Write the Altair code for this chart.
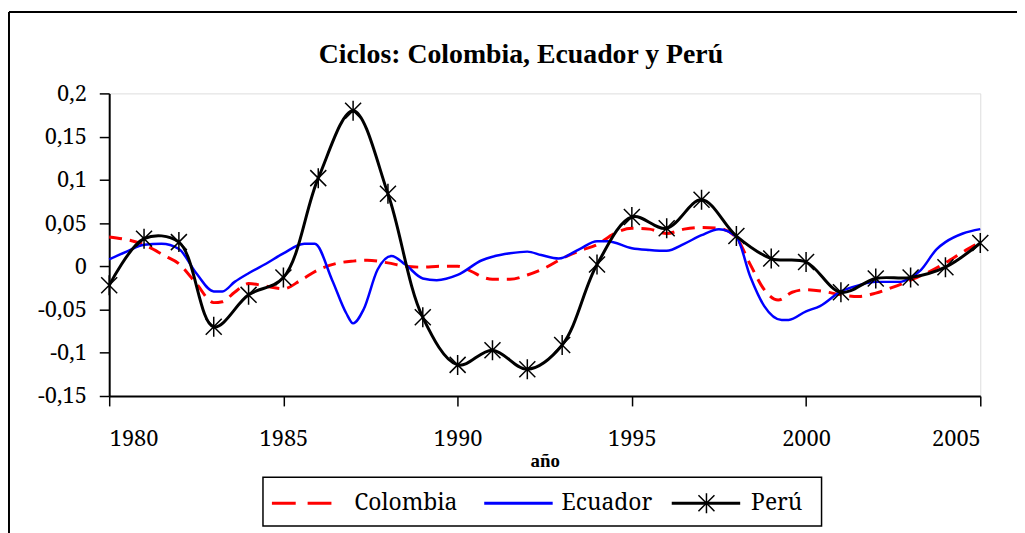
import altair as alt
import pandas as pd

# ---- data ----
peru_years = list(range(1980, 2006))
peru_vals = [-0.022, 0.032, 0.028, -0.070, -0.033, -0.013, 0.102, 0.180, 0.084, -0.059,
             -0.114, -0.097, -0.119, -0.091, 0.002, 0.057, 0.044, 0.077, 0.035, 0.009,
             0.005, -0.030, -0.014, -0.013, -0.001, 0.027]

col_years = [1980, 1981, 1981.6, 1982, 1982.5, 1983, 1983.25, 1983.6, 1984, 1984.5, 1985,
             1985.5, 1986, 1986.6, 1987, 1987.4, 1988, 1988.5, 1989, 1989.5, 1990, 1990.4,
             1990.75, 1991, 1991.5, 1992, 1992.5, 1993, 1993.5, 1994, 1994.5, 1995, 1995.5,
             1996, 1996.5, 1997, 1997.5, 1998, 1998.4, 1998.8, 1999.2, 1999.6, 2000, 2000.5,
             2001, 2001.5, 2002, 2002.5, 2003, 2003.5, 2004, 2004.6, 2005]
col_vals = [0.034, 0.025, 0.012, 0.003, -0.020, -0.042, -0.041, -0.030, -0.020, -0.023, -0.026,
            -0.016, -0.004, 0.004, 0.006, 0.007, 0.004, 0.000, -0.001, 0.000, 0.000, -0.006,
            -0.013, -0.015, -0.015, -0.010, -0.002, 0.009, 0.018, 0.025, 0.038, 0.044, 0.043,
            0.038, 0.043, 0.045, 0.044, 0.033, 0.002, -0.027, -0.039, -0.030, -0.027, -0.029,
            -0.033, -0.035, -0.031, -0.024, -0.016, -0.007, 0.004, 0.019, 0.028]

ecu_years = [1980, 1980.5, 1981, 1981.5, 1982, 1982.5, 1983, 1983.25, 1983.6, 1984, 1984.5,
             1985, 1985.6, 1985.9, 1986.4, 1986.8, 1987, 1987.3, 1987.7, 1988.1, 1988.5, 1989,
             1989.4, 1990, 1990.7, 1991, 1991.5, 1992, 1992.4, 1992.9, 1993.5, 1994, 1994.3,
             1995, 1995.5, 1996, 1996.5, 1997, 1997.5, 1998, 1998.4, 1998.8, 1999.3, 1999.5,
             2000, 2000.4, 2001, 2001.5, 2002, 2002.7, 2003, 2003.3, 2003.75, 2004, 2004.5, 2005]
ecu_vals = [0.008, 0.017, 0.025, 0.026, 0.020, -0.008, -0.029, -0.029, -0.018, -0.008, 0.003,
            0.015, 0.026, 0.026, -0.016, -0.054, -0.066, -0.050, -0.004, 0.012, 0.002, -0.014,
            -0.016, -0.010, 0.007, 0.011, 0.015, 0.017, 0.013, 0.009, 0.020, 0.029, 0.029,
            0.021, 0.019, 0.018, 0.026, 0.036, 0.043, 0.034, -0.012, -0.046, -0.062, -0.062,
            -0.052, -0.046, -0.029, -0.022, -0.018, -0.018, -0.013, -0.004, 0.020, 0.028, 0.038, 0.043]

x_ticks = [1980, 1985, 1990, 1995, 2000, 2005]
y_ticks = [-0.15, -0.1, -0.05, 0, 0.05, 0.1, 0.15, 0.2]

TITLE = "Ciclos: Colombia, Ecuador y Perú"
X_TITLE = "año"
SERIF = "Noto Serif"          # regular serif face
SERIF_BOLD = "Liberation Serif"  # bold serif face

peru = pd.DataFrame({"año": peru_years, "valor": peru_vals})
col = pd.DataFrame({"año": col_years, "valor": col_vals})
ecu = pd.DataFrame({"año": ecu_years, "valor": ecu_vals})

ASTERISK = "M-1,-1L1,1M-1,1L1,-1M0,-1.25L0,1.25"

xscale = alt.Scale(domain=[1980, 2005], nice=False, zero=False)
yscale = alt.Scale(domain=[-0.15, 0.2], nice=False, zero=False)

xaxis = alt.Axis(values=x_ticks, format="d", title=X_TITLE, grid=False,
                 domainColor="black", domainWidth=2, tickColor="black", tickWidth=1.5,
                 tickSize=10, labelPadding=23, labelFont=SERIF, labelFontSize=22,
                 labelColor="black", titleFont=SERIF_BOLD, titleFontSize=19,
                 titleFontWeight="bold", titleColor="black", titlePadding=2)
yaxis = alt.Axis(values=y_ticks, title=None, grid=False,
                 labelExpr="replace(toString(datum.value), '.', ',')",
                 domainColor="black", domainWidth=2, tickColor="black", tickWidth=1.5,
                 tickSize=10, labelPadding=13, labelFont=SERIF, labelFontSize=22,
                 labelColor="black")

base_x = alt.X("año:Q", scale=xscale, axis=xaxis)
base_y = alt.Y("valor:Q", scale=yscale, axis=yaxis)

col_line = alt.Chart(col).mark_line(color="#ff0000", strokeWidth=3, strokeDash=[13, 8],
                                    interpolate="monotone").encode(x=base_x, y=base_y)
ecu_line = alt.Chart(ecu).mark_line(color="#0000ff", strokeWidth=2.5,
                                    interpolate="monotone").encode(x="año:Q", y="valor:Q")
peru_line = alt.Chart(peru).mark_line(color="black", strokeWidth=3,
                                      interpolate="catmull-rom").encode(x="año:Q", y="valor:Q")
peru_pts = alt.Chart(peru).mark_point(shape=ASTERISK, size=260, filled=False, color="black",
                                      strokeWidth=1.5, opacity=1).encode(x="año:Q", y="valor:Q")

# ---- chart frame (outer border, top & left visible) ----
frame_top = alt.Chart().mark_rule(color="black", strokeWidth=2).encode(
    x=alt.value(-101), x2=alt.value(1000), y=alt.value(-82))
frame_left = alt.Chart().mark_rule(color="black", strokeWidth=2).encode(
    x=alt.value(-101), y=alt.value(-82), y2=alt.value(460))

# ---- title ----
title_mark = alt.Chart().mark_text(align="center", baseline="alphabetic", font=SERIF_BOLD,
                                   fontSize=28, fontWeight="bold", color="black").encode(
    x=alt.value(415), y=alt.value(-31), text=alt.value(TITLE))

# ---- legend (manual, boxed) ----
LY = 413
leg_box = alt.Chart().mark_rect(fill="white", stroke="black", strokeWidth=1.5).encode(
    x=alt.value(155), x2=alt.value(718), y=alt.value(387), y2=alt.value(436))
leg_col = alt.Chart().mark_rule(color="#ff0000", strokeWidth=3, strokeDash=[24, 12]).encode(
    x=alt.value(164), x2=alt.value(226), y=alt.value(LY))
leg_ecu = alt.Chart().mark_rule(color="#0000ff", strokeWidth=3).encode(
    x=alt.value(378), x2=alt.value(447), y=alt.value(LY))
leg_peru = alt.Chart().mark_rule(color="black", strokeWidth=3).encode(
    x=alt.value(567), x2=alt.value(636), y=alt.value(LY))
leg_peru_pt = alt.Chart().mark_point(shape=ASTERISK, size=260, filled=False, color="black",
                                     strokeWidth=1.5, opacity=1).encode(
    x=alt.value(602), y=alt.value(LY))

def leg_text(label, xpos):
    return alt.Chart().mark_text(align="left", baseline="middle", font=SERIF, fontSize=23,
                                 color="black").encode(
        x=alt.value(xpos), y=alt.value(LY), text=alt.value(label))

chart = alt.layer(
    col_line, ecu_line, peru_line, peru_pts,
    frame_top, frame_left, title_mark,
    leg_box, leg_col, leg_ecu, leg_peru, leg_peru_pt,
    leg_text("Colombia", 247), leg_text("Ecuador", 456), leg_text("Perú", 647),
).properties(
    width=878, height=305,
    autosize=alt.AutoSizeParams(type="none"),
    padding={"left": 102, "top": 84, "right": 37, "bottom": 136},
).configure_view(stroke="#999999", strokeWidth=1.5
).configure(background="white")

chart.save("out.html", embed_options={"renderer": "svg", "actions": False})
